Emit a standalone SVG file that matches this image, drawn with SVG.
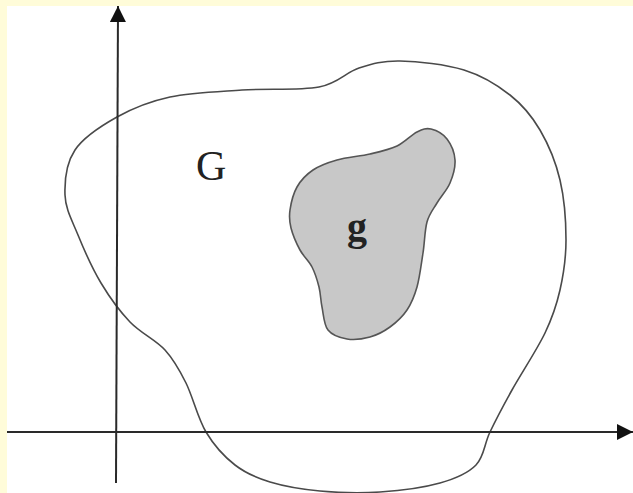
<svg xmlns="http://www.w3.org/2000/svg" width="633" height="493" viewBox="0 0 633 493">
<style>
.axis{stroke:#2a2a2a;stroke-width:2;fill:none}
.outline{stroke:#4a4a4a;stroke-width:1.6;fill:none}
.shade{stroke:#555;stroke-width:1.6;fill:#c8c8c8}
.lbl{font-family:"Liberation Serif","Times New Roman",serif;fill:#222}
</style>
<defs>
<marker id="arr" viewBox="0 0 10 10" refX="10" refY="5" markerUnits="userSpaceOnUse" markerWidth="19" markerHeight="16" orient="auto">
<path d="M0,0 L10,5 L0,10 z" fill="#111"/>
</marker>
</defs>
<rect x="0" y="0" width="633" height="493" fill="#fffcd9"/>
<rect x="7" y="6" width="626" height="487" fill="#ffffff"/>
<g id="region-G">
<path class="outline" d="M65,195 C64.5,180.8 66.3,163 75,150 C83.7,137 101.2,125.8 117,117 C132.8,108.2 149.2,101.5 170,97 C190.8,92.5 217.2,91.7 242,90 C266.8,88.3 299.5,90.7 319,87 C338.5,83.3 345.5,72.3 359,68 C372.5,63.7 382.5,60.7 400,61 C417.5,61.3 445.7,64.3 464,70 C482.3,75.7 497.3,85 510,95 C522.7,105 531.7,115.8 540,130 C548.3,144.2 555.7,161.7 560,180 C564.3,198.3 566,221.7 566,240 C566,258.3 563.5,274.5 560,290 C556.5,305.5 553,316.3 545,333 C537,349.7 521.2,373.5 512,390 C502.8,406.5 496,419.5 490,432 C484,444.5 484.3,456.5 476,465 C467.7,473.5 456,478.5 440,483 C424,487.5 400,490.7 380,492 C360,493.3 338.3,492.7 320,491 C301.7,489.3 284.2,486.3 270,482 C255.8,477.7 245.7,473.3 235,465 C224.3,456.7 214.2,445.7 206,432 C197.8,418.3 192.8,396.7 186,383 C179.2,369.3 174.3,360.2 165,350 C155.7,339.8 140.7,333.2 130,322 C119.3,310.8 109.7,297.5 101,283 C92.3,268.5 84,249.7 78,235 C72,220.3 65.5,209.2 65,195 Z"/>
<text class="lbl" x="196" y="180" font-size="42">G</text>
</g>
<g id="region-g">
<path class="shade" d="M290,210 C291,203.2 293.2,193.7 297,187 C300.8,180.3 306.3,174.5 313,170 C319.7,165.5 327.5,162.7 337,160 C346.5,157.3 360,156.3 370,154 C380,151.7 389.2,149.7 397,146 C404.8,142.3 411.3,134.8 417,132 C422.7,129.2 426,127.8 431,129 C436,130.2 443,133.8 447,139 C451,144.2 454.5,152.7 455,160 C455.5,167.3 453,175.8 450,183 C447,190.2 440.8,196.5 437,203 C433.2,209.5 429.3,213.7 427,222 C424.7,230.3 424.7,242.2 423,253 C421.3,263.8 419.7,277.5 417,287 C414.3,296.5 411.5,303.3 407,310 C402.5,316.7 396.2,322.5 390,327 C383.8,331.5 377.2,335 370,337 C362.8,339 354,340.2 347,339 C340,337.8 332.2,335.3 328,330 C323.8,324.7 323.5,314.2 322,307 C320.5,299.8 320.7,293.7 319,287 C317.3,280.3 315.2,273.2 312,267 C308.8,260.8 303.5,256.5 300,250 C296.5,243.5 292.7,234.7 291,228 C289.3,221.3 289,216.8 290,210 Z"/>
<text class="lbl" x="347" y="240" font-size="40" font-weight="bold">g</text>
</g>
<g id="connectors">
<line class="axis" x1="116" y1="483" x2="118" y2="6" marker-end="url(#arr)"/>
<line class="axis" x1="7" y1="432" x2="633" y2="432" marker-end="url(#arr)"/>
</g>
</svg>
